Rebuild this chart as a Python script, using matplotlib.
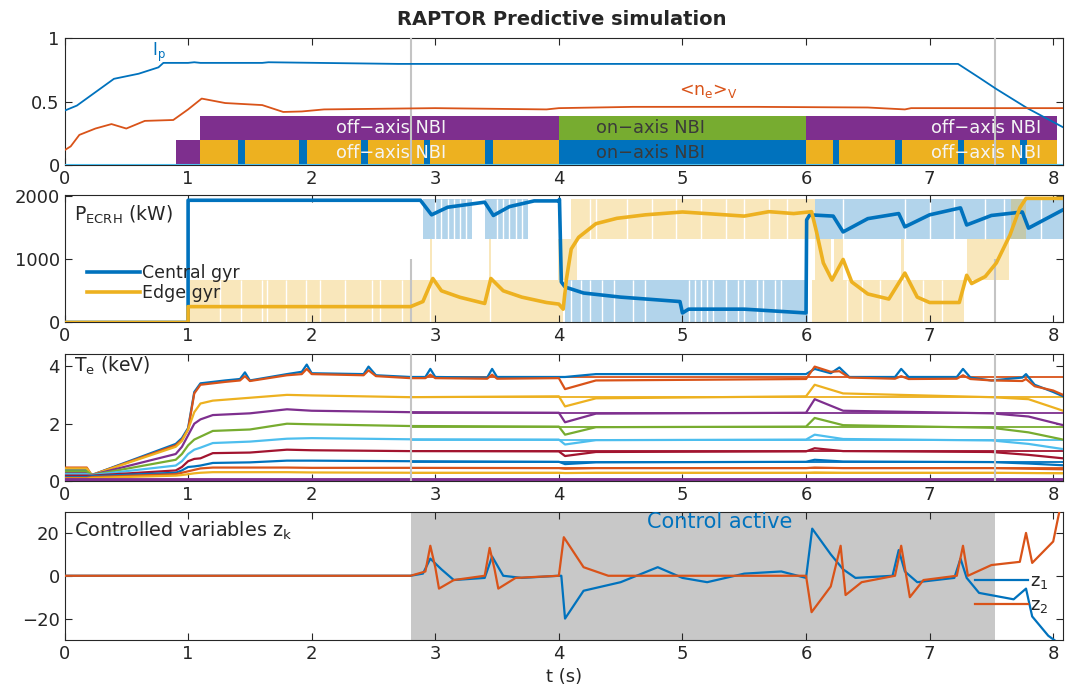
import numpy as np
import matplotlib
matplotlib.use("Agg")
import matplotlib.pyplot as plt

# MATLAB default colour order
C_BLUE = '#0072BD'
C_ORANGE = '#D95319'
C_YELLOW = '#EDB120'
C_PURPLE = '#7E2F8E'
C_GREEN = '#77AC30'
C_CYAN = '#4DBEEE'
C_RED = '#A2142F'
C_TEXT = '#262626'
C_MARK = '#c4c4c4'

# ---------------- data ----------------
t_control = [2.8, 7.53]          # start / end of feedback control

# panel 1: plasma current and density
ip_t = [0, 0.1, 0.4, 0.6, 0.76, 0.8, 1.0, 1.05, 1.1, 1.6, 1.65, 2.7, 7.23, 7.4, 7.54, 7.79, 8.08]
ip = [0.43, 0.47, 0.68, 0.72, 0.77, 0.805, 0.805, 0.81, 0.805, 0.805, 0.81, 0.797, 0.797, 0.69, 0.6, 0.45, 0.30]
ne_t = [0, 0.05, 0.12, 0.25, 0.38, 0.5, 0.65, 0.88, 1.0, 1.11, 1.3, 1.6, 1.77, 1.92, 2.1,
        3.0, 3.9, 4.0, 4.6, 5.6, 6.5, 6.8, 6.85, 8.08]
ne = [0.12, 0.15, 0.24, 0.29, 0.325, 0.29, 0.35, 0.357, 0.44, 0.525, 0.49, 0.474, 0.42, 0.424, 0.44,
      0.45, 0.44, 0.45, 0.46, 0.46, 0.455, 0.44, 0.45, 0.45]

# NBI schedule: (start, duration)
nbi_row1_start = [1.1, 4.0, 6.0]
nbi_row1_dur = [2.9, 2.0, 2.03]
nbi_row1_col = [C_PURPLE, C_GREEN, C_PURPLE]
nbi_row2_start = [0.9, 1.1, 4.0, 6.0]
nbi_row2_dur = [0.2, 2.9, 2.0, 2.03]
nbi_row2_col = [C_PURPLE, C_YELLOW, C_BLUE, C_YELLOW]
nbi_notch_start = [1.40, 1.90, 2.40, 2.905, 3.405, 6.22, 6.72, 7.23, 7.735]
nbi_notch_dur = [0.06, 0.06, 0.055, 0.055, 0.06, 0.05, 0.055, 0.05, 0.055]

# panel 2: ECRH powers (kW)
central_t = [0, 1.0, 1.0, 2.88, 2.97, 3.1, 3.4, 3.47, 3.6, 3.8,
             4.0, 4.005, 4.02, 4.05, 4.2, 4.5, 4.98, 5.0, 5.05, 5.5,
             6.0, 6.005, 6.03, 6.22, 6.3, 6.5, 6.75, 6.8, 7.0, 7.25,
             7.3, 7.5, 7.75, 7.8, 8.08]
central = [0, 0, 1930, 1930, 1700, 1820, 1900, 1690, 1830, 1920,
           1920, 1945, 640, 560, 465, 400, 330, 150, 210, 210,
           150, 1620, 1700, 1680, 1430, 1640, 1720, 1510, 1700, 1810,
           1540, 1690, 1745, 1490, 1780]
edge_t = [0, 1.0, 1.0, 2.8, 2.9, 2.98, 3.05, 3.2, 3.4, 3.45,
          3.55, 3.7, 3.9, 4.0, 4.035, 4.06, 4.1, 4.16, 4.3, 4.47,
          4.7, 5.0, 5.5, 5.7, 5.9, 6.045, 6.085, 6.14, 6.21, 6.3,
          6.37, 6.5, 6.67, 6.8, 6.9, 7.0, 7.24, 7.3, 7.34, 7.45,
          7.54, 7.65, 7.73, 7.78, 8.08]
edge = [0, 0, 250, 250, 330, 695, 500, 397, 300, 695,
        500, 400, 315, 290, 210, 670, 1160, 1345, 1560, 1645,
        1700, 1745, 1680, 1750, 1720, 1750, 1430, 940, 670, 995,
        640, 450, 370, 780, 400, 315, 315, 745, 615, 725,
        940, 1380, 1810, 1960, 1960]

# pulse-width-modulation envelopes of the gyrotrons
central_band_t0 = [2.90, 3.40, 4.05, 6.07]
central_band_t1 = [3.30, 3.75, 6.02, 8.08]
central_band_lo = [1320, 1320, 0, 1320]
central_band_hi = [1950, 1950, 670, 1950]
edge_band_t0 = [1.01, 3.99, 4.10, 6.05, 6.07, 6.23, 7.30, 7.66, 2.955, 3.435, 6.77]
edge_band_t1 = [4.03, 4.15, 6.07, 7.28, 6.20, 6.30, 7.64, 7.78, 2.975, 3.455, 6.79]
edge_band_lo = [0, 670, 1320, 0, 670, 670, 670, 1320, 670, 670, 670]
edge_band_hi = [670, 1320, 1950, 670, 1320, 1320, 1320, 1950, 1320, 1320, 1320]
edge_gap_low = [1.26, 1.43, 1.60, 1.64, 1.79, 1.95, 2.07, 2.27, 2.49, 2.55, 2.73,
                2.96, 3.44, 6.33, 6.45, 6.6, 6.78, 6.95, 7.1]
edge_gap_high = [4.25, 4.30, 4.55, 4.75, 4.95, 5.15, 5.35, 5.50, 5.70, 5.85]
central_gap_low = [4.10, 4.18, 4.25, 4.35, 4.45, 4.60, 4.70, 5.05, 5.10, 5.15, 5.20,
                   5.25, 5.35, 5.45, 5.50, 5.60, 5.65, 5.75, 5.80]
central_gap_high = [3.00, 3.05, 3.10, 3.15, 3.20, 3.25, 3.50, 3.55, 3.60, 3.65, 3.70,
                    6.30, 6.80, 7.00, 7.20, 7.45, 7.60, 7.90]

# panel 3: electron temperature at radial positions (keV)
te_top_t = [0, 0.18, 0.22, 0.9, 0.95, 1.0, 1.05, 1.1, 1.3, 1.42,
            1.46, 1.5, 1.8, 1.92, 1.96, 2.0, 2.42, 2.46, 2.52, 2.8,
            2.92, 2.96, 3.0, 3.42, 3.46, 3.5, 4.0, 4.05, 4.3, 6.0,
            6.07, 6.2, 6.27, 6.35, 6.72, 6.77, 6.83, 7.22, 7.27, 7.33,
            7.5, 7.75, 7.78, 7.85, 8.0, 8.08]
te_core1 = [0.40, 0.40, 0.22, 1.30, 1.50, 1.85, 3.10, 3.40, 3.50, 3.55,
            3.78, 3.50, 3.72, 3.80, 4.05, 3.75, 3.72, 3.98, 3.68, 3.62,
            3.62, 3.90, 3.62, 3.60, 3.90, 3.62, 3.62, 3.62, 3.72, 3.72,
            3.90, 3.75, 3.95, 3.62, 3.62, 3.90, 3.62, 3.62, 3.90, 3.60,
            3.50, 3.60, 3.72, 3.35, 3.10, 2.95]
te_core2 = [0.48, 0.48, 0.22, 1.25, 1.45, 1.80, 3.05, 3.35, 3.45, 3.50,
            3.65, 3.48, 3.68, 3.72, 3.90, 3.72, 3.68, 3.85, 3.65, 3.58,
            3.58, 3.70, 3.58, 3.56, 3.70, 3.56, 3.58, 3.20, 3.50, 3.55,
            3.98, 3.80, 3.82, 3.60, 3.56, 3.65, 3.55, 3.56, 3.68, 3.55,
            3.50, 3.48, 3.55, 3.30, 3.15, 3.00]
te_t = [0, 0.18, 0.22, 0.9, 0.95, 1.0, 1.05, 1.1, 1.2, 1.5, 1.8,
        2.0, 2.8, 4.0, 4.05, 4.3, 6.0, 6.07, 6.3, 7.5, 7.8, 8.08]
te_r3 = [0.45, 0.45, 0.22, 1.20, 1.40, 1.80, 2.40, 2.70, 2.80, 2.90, 3.00, 2.98, 2.92, 2.95, 2.60, 2.88, 2.95, 3.35, 3.05, 2.92, 2.85, 2.45]
te_r4 = [0.30, 0.30, 0.22, 0.95, 1.20, 1.60, 2.00, 2.15, 2.30, 2.36, 2.50, 2.45, 2.40, 2.38, 2.05, 2.35, 2.38, 2.85, 2.45, 2.36, 2.25, 1.95]
te_r5 = [0.35, 0.35, 0.22, 0.75, 0.95, 1.25, 1.45, 1.55, 1.75, 1.80, 2.00, 1.98, 1.92, 1.90, 1.62, 1.88, 1.90, 2.20, 1.95, 1.86, 1.70, 1.45]
te_r6 = [0.25, 0.25, 0.22, 0.55, 0.70, 0.95, 1.10, 1.17, 1.33, 1.38, 1.48, 1.50, 1.46, 1.45, 1.28, 1.43, 1.45, 1.62, 1.47, 1.42, 1.30, 1.12]
te_r7 = [0.20, 0.20, 0.20, 0.38, 0.50, 0.70, 0.78, 0.80, 0.98, 1.00, 1.10, 1.08, 1.05, 1.04, 0.88, 1.02, 1.04, 1.15, 1.05, 1.02, 0.92, 0.80]
te_r8 = [0.15, 0.15, 0.18, 0.30, 0.38, 0.50, 0.52, 0.55, 0.64, 0.66, 0.72, 0.72, 0.70, 0.68, 0.60, 0.66, 0.68, 0.75, 0.69, 0.67, 0.62, 0.56]
te_r9 = [0.12, 0.12, 0.15, 0.25, 0.30, 0.35, 0.40, 0.45, 0.48, 0.48, 0.48, 0.47, 0.47, 0.46, 0.44, 0.46, 0.46, 0.48, 0.46, 0.46, 0.44, 0.42]
te_r10 = [0.10, 0.10, 0.12, 0.20, 0.22, 0.25, 0.28, 0.30, 0.32, 0.32, 0.32, 0.31, 0.30, 0.30, 0.29, 0.30, 0.30, 0.31, 0.30, 0.30, 0.29, 0.28]
te_r11 = [0.05, 0.05, 0.05, 0.05, 0.05, 0.05, 0.05, 0.05, 0.05, 0.05, 0.05, 0.05, 0.05, 0.05, 0.05, 0.05, 0.05, 0.05, 0.05, 0.05, 0.05, 0.05]
te_ref = [3.62, 2.92, 2.38, 1.90, 1.45, 1.04, 0.68, 0.46, 0.30]

# panel 4: controlled variables
z1_t = [0, 2.8, 2.9, 2.96, 3.05, 3.15, 3.4, 3.46, 3.55, 3.7,
        4.0, 4.02, 4.05, 4.2, 4.5, 4.8, 5.0, 5.2, 5.5, 5.8,
        6.0, 6.05, 6.2, 6.3, 6.4, 6.7, 6.75, 6.8, 6.9, 7.2,
        7.25, 7.3, 7.4, 7.68, 7.78, 7.83, 7.96, 8.08]
z1 = [0, 0, 1, 8, 3, -2, -1, 9, 0, -1,
      0, 0, -20, -7, -3, 4, -1, -3, 1, 2,
      -1, 22, 10, 3, -1, 0, 12, 2, -3, -1,
      8, -1, -8, -11, -6, -19, -28, -33]
z2_t = [0, 2.8, 2.92, 2.96, 3.0, 3.03, 3.15, 3.4, 3.44, 3.48,
        3.51, 3.65, 4.0, 4.04, 4.2, 4.4, 6.0, 6.045, 6.2, 6.28,
        6.32, 6.45, 6.72, 6.77, 6.84, 6.95, 7.22, 7.27, 7.31, 7.5,
        7.73, 7.78, 7.83, 8.0, 8.05, 8.08]
z2 = [0, 0, 2, 14, 4, -6, -2, 0, 13, 3,
      -6, -1, 0, 18, 4, 0, 0, -17, -5, 14,
      -9, -3, 0, 14, -10, -2, 0, 14, 0, 5,
      6.5, 20, 6, 16, 30, 35]

XMAX = 8.08
plt.rcParams['font.family'] = 'DejaVu Sans'
plt.rcParams['font.size'] = 13
plt.rcParams['text.color'] = C_TEXT

fig = plt.figure(figsize=(10.68, 6.89), dpi=100)
left, width = 0.0604, 0.935
ax1 = fig.add_axes([left, 0.7598, width, 0.185])
ax2 = fig.add_axes([left, 0.532, width, 0.1856])
ax3 = fig.add_axes([left, 0.3013, width, 0.1842])
ax4 = fig.add_axes([left, 0.0711, width, 0.1865])

for ax in (ax1, ax2, ax3, ax4):
    ax.set_xlim(0, XMAX)
    ax.set_xticks(range(9))
    ax.tick_params(direction='in', length=5, width=0.8, top=True, right=True,
                   colors=C_TEXT, labelsize=13)
    for sp in ax.spines.values():
        sp.set_color(C_TEXT)
        sp.set_linewidth(0.8)

# ---- panel 1 ----
ax1.set_ylim(0, 1)
ax1.set_yticks([0, 0.5, 1])
ax1.set_yticklabels(['0', '0.5', '1'])
ax1.broken_barh(list(zip(nbi_row1_start, nbi_row1_dur)), (0.2, 0.19), facecolors=nbi_row1_col, zorder=2)
ax1.broken_barh(list(zip(nbi_row2_start, nbi_row2_dur)), (0.0, 0.2), facecolors=nbi_row2_col, zorder=2)
ax1.broken_barh(list(zip(nbi_notch_start, nbi_notch_dur)), (0.0, 0.2), facecolors=C_BLUE, zorder=2)
ax1.axhline(0.004, color=C_CYAN, lw=1.5, zorder=3)
ax1.plot(ip_t, ip, color=C_BLUE, lw=1.3, zorder=4)
ax1.plot(ne_t, ne, color=C_ORANGE, lw=1.3, zorder=4)
for tc in t_control:
    ax1.axvline(tc, color=C_MARK, lw=1.5, zorder=3)
ax1.text(0.71, 0.86, r'I$_{\mathregular{p}}$', color=C_BLUE, fontsize=12)
ax1.text(4.97, 0.55, r'<n$_{\mathregular{e}}$>$_{\mathregular{V}}$', color=C_ORANGE, fontsize=12.5)
nbi_font = 12.8
ax1.text(2.64, 0.295, 'off\u2212axis NBI', color='#f4f4f4', ha='center', va='center', fontsize=nbi_font, zorder=5)
ax1.text(2.64, 0.1, 'off\u2212axis NBI', color='#f4f4f4', ha='center', va='center', fontsize=nbi_font, zorder=5)
ax1.text(7.46, 0.295, 'off\u2212axis NBI', color='#f4f4f4', ha='center', va='center', fontsize=nbi_font, zorder=5)
ax1.text(7.46, 0.1, 'off\u2212axis NBI', color='#f4f4f4', ha='center', va='center', fontsize=nbi_font, zorder=5)
ax1.text(4.74, 0.295, 'on\u2212axis NBI', color='#3a3a3a', ha='center', va='center', fontsize=nbi_font, zorder=5)
ax1.text(4.74, 0.1, 'on\u2212axis NBI', color='#3a3a3a', ha='center', va='center', fontsize=nbi_font, zorder=5)

# ---- panel 2 ----
ax2.set_ylim(0, 2020)
ax2.set_yticks([0, 1000, 2000])
for t0, t1, lo, hi in zip(central_band_t0, central_band_t1, central_band_lo, central_band_hi):
    ax2.fill_between([t0, t1], lo, hi, color=C_BLUE, alpha=0.3, lw=0, zorder=1)
for t0, t1, lo, hi in zip(edge_band_t0, edge_band_t1, edge_band_lo, edge_band_hi):
    ax2.fill_between([t0, t1], lo, hi, color=C_YELLOW, alpha=0.3, lw=0, zorder=1)
ax2.vlines(edge_gap_low, 0, 670, color='white', lw=1, zorder=1.5)
ax2.vlines(edge_gap_high, 1320, 1950, color='white', lw=1, zorder=1.5)
ax2.vlines(central_gap_low, 0, 670, color='white', lw=1, zorder=1.5)
ax2.vlines(central_gap_high, 1320, 1950, color='white', lw=1, zorder=1.5)
ax2.vlines(t_control, 0, 1000, color=C_MARK, lw=1.5, zorder=2)
ax2.plot(central_t, central, color=C_BLUE, lw=2.6, label='Central gyr', zorder=3)
ax2.plot(edge_t, edge, color=C_YELLOW, lw=2.6, label='Edge gyr', zorder=3)
ax2.text(0.08, 1700, r'P$_{\mathregular{ECRH}}$ (kW)', fontsize=13.5, va='center')
ax2.legend(loc='center left', bbox_to_anchor=(0.016, 0.31), frameon=False, fontsize=12.5,
           handlelength=3.0, handletextpad=0.15, labelspacing=0.1, borderaxespad=0)

# ---- panel 3 ----
ax3.set_ylim(0, 4.4)
ax3.set_yticks([0, 2, 4])
ref_cols = [C_ORANGE, C_YELLOW, C_PURPLE, C_GREEN, C_CYAN, C_RED, C_BLUE, C_ORANGE, C_YELLOW]
for lvl, col in zip(te_ref, ref_cols):
    ax3.plot([t_control[0], XMAX], [lvl, lvl], color=col, lw=1.3, zorder=2)
ax3.plot(te_top_t, te_core1, color=C_BLUE, lw=1.6, zorder=3)
ax3.plot(te_top_t, te_core2, color=C_ORANGE, lw=1.6, zorder=3)
te_rest = [te_r3, te_r4, te_r5, te_r6, te_r7, te_r8, te_r9, te_r10, te_r11]
rest_cols = [C_YELLOW, C_PURPLE, C_GREEN, C_CYAN, C_RED, C_BLUE, C_ORANGE, C_YELLOW, C_PURPLE]
rest_lw = [1.6, 1.6, 1.6, 1.6, 1.6, 1.6, 1.6, 1.6, 3.5]
for vals, col, lw in zip(te_rest, rest_cols, rest_lw):
    ax3.plot(te_t, vals, color=col, lw=lw, zorder=3)
for tc in t_control:
    ax3.axvline(tc, color=C_MARK, lw=1.5, zorder=4)
ax3.text(0.08, 4.0, r'T$_{\mathregular{e}}$ (keV)', fontsize=13.5, va='center')

# ---- panel 4 ----
ax4.set_ylim(-30, 30)
ax4.set_yticks([-20, 0, 20])
ax4.set_yticklabels(['\u221220', '0', '20'])
ax4.axvspan(t_control[0], t_control[1], color='#c8c8c8', lw=0, zorder=0)
ax4.plot(z1_t, z1, color=C_BLUE, lw=1.6, label=r'z$_{\mathregular{1}}$', zorder=3)
ax4.plot(z2_t, z2, color=C_ORANGE, lw=1.6, label=r'z$_{\mathregular{2}}$', zorder=3)
ax4.text(0.08, 21, r'Controlled variables z$_{\mathregular{k}}$', fontsize=13.8, va='center')
ax4.text(5.3, 25, 'Control active', color=C_BLUE, fontsize=15, ha='center', va='center')
ax4.legend(loc='center left', bbox_to_anchor=(0.905, 0.36), frameon=False, fontsize=13,
           handlelength=2.9, handletextpad=0.1, labelspacing=0.3, borderaxespad=0)
ax4.set_xlabel('t (s)', fontsize=13, color=C_TEXT, labelpad=4)

fig.text(0.526, 0.971, 'RAPTOR Predictive simulation', ha='center', va='center',
         fontsize=14, fontweight='bold', color=C_TEXT)

fig.savefig('out.png', dpi=100, facecolor='white')
